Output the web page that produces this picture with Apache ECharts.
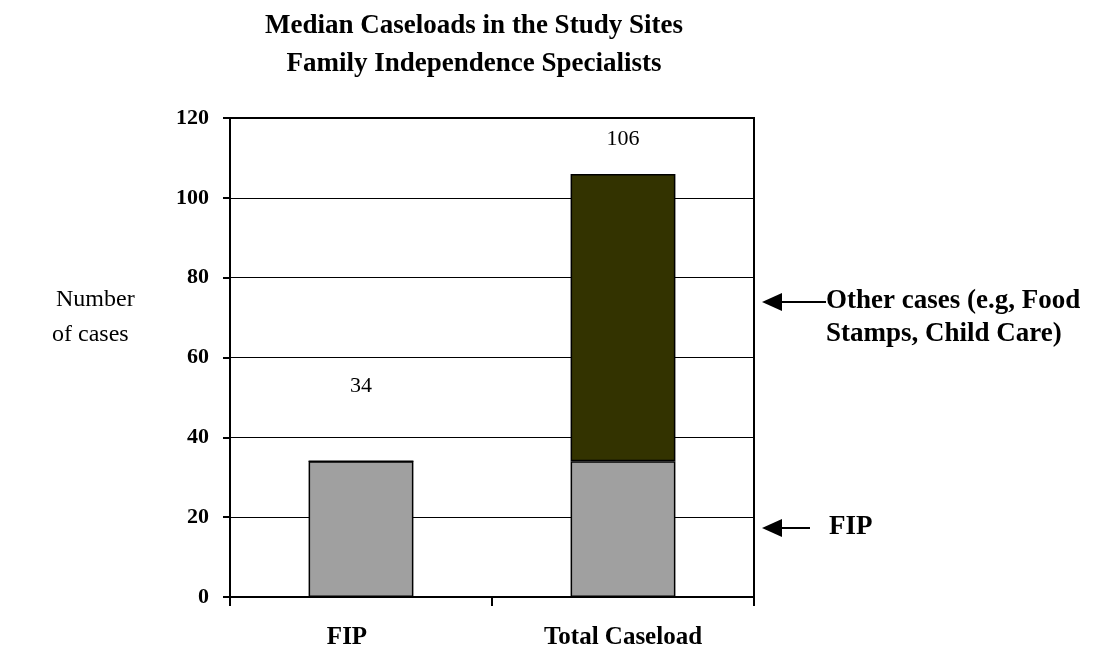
<!DOCTYPE html>
<html>
<head>
<meta charset="utf-8">
<script src="https://cdn.jsdelivr.net/npm/echarts@6/dist/echarts.min.js"></script>
<style>
  html, body { margin: 0; padding: 0; background: #fff; }
  #chart { width: 1094px; height: 647px; }
</style>
</head>
<body>
<div id="chart"></div>
<script>
const categories = ['FIP', 'Total Caseload'];
const fipCases = [34, 34];
const otherCases = [0, 72];
const totals = fipCases.map((v, i) => v + otherCases[i]);
const yTicks = [0, 20, 40, 60, 80, 100, 120];

const serif = '"Liberation Serif", "Times New Roman", serif';
const chart = echarts.init(document.getElementById('chart'));

chart.setOption({
  animation: false,
  backgroundColor: '#fff',
  graphic: [
    { type: 'text', x: 474, y: 26,
      style: { text: 'Median Caseloads in the Study Sites', font: 'bold 27px ' + serif, fill: '#000', align: 'center', verticalAlign: 'middle' } },
    { type: 'text', x: 474, y: 64,
      style: { text: 'Family Independence Specialists', font: 'bold 27px ' + serif, fill: '#000', align: 'center', verticalAlign: 'middle' } },
    { type: 'text', x: 56, y: 300,
      style: { text: 'Number', font: '24px ' + serif, fill: '#000', verticalAlign: 'middle' } },
    { type: 'text', x: 52, y: 335,
      style: { text: 'of cases', font: '24px ' + serif, fill: '#000', verticalAlign: 'middle' } },
    // arrow to other cases
    { type: 'line', shape: { x1: 780, y1: 302, x2: 826, y2: 302 }, style: { stroke: '#000', lineWidth: 2 } },
    { type: 'polygon', shape: { points: [[762, 302], [782, 293], [782, 311]] }, style: { fill: '#000' } },
    { type: 'text', x: 826, y: 301,
      style: { text: 'Other cases (e.g, Food', font: 'bold 27px ' + serif, fill: '#000', verticalAlign: 'middle' } },
    { type: 'text', x: 826, y: 334,
      style: { text: 'Stamps, Child Care)', font: 'bold 27px ' + serif, fill: '#000', verticalAlign: 'middle' } },
    // arrow to FIP
    { type: 'line', shape: { x1: 780, y1: 528, x2: 810, y2: 528 }, style: { stroke: '#000', lineWidth: 2 } },
    { type: 'polygon', shape: { points: [[762, 528], [782, 519], [782, 537]] }, style: { fill: '#000' } },
    { type: 'text', x: 829, y: 527,
      style: { text: 'FIP', font: 'bold 27px ' + serif, fill: '#000', verticalAlign: 'middle' } }
  ],
  grid: {
    left: 230, right: 340, top: 118, bottom: 50,
    outerBoundsMode: 'none',
    show: true, borderColor: '#000', borderWidth: 2, backgroundColor: 'transparent'
  },
  xAxis: {
    type: 'category',
    data: categories,
    axisLine: { lineStyle: { color: '#000', width: 2 } },
    axisTick: { show: true, alignWithLabel: false, interval: 0, length: 9, lineStyle: { color: '#000', width: 2 } },
    axisLabel: {
      margin: 28, fontFamily: serif, fontSize: 25, fontWeight: 'bold', color: '#000',
      // first label sits a little left of its bar in the original
      formatter: (v, i) => (i === 0 ? '{l|' + v + '}' : v),
      rich: { l: { fontFamily: serif, fontSize: 25, fontWeight: 'bold', color: '#000', padding: [0, 28, 0, 0] } }
    }
  },
  yAxis: {
    type: 'value',
    min: yTicks[0], max: yTicks[yTicks.length - 1], interval: 20,
    axisLine: { show: true, lineStyle: { color: '#000', width: 2 } },
    axisTick: { show: true, length: 7, lineStyle: { color: '#000', width: 2 } },
    axisLabel: { margin: 21, fontFamily: serif, fontSize: 22, fontWeight: 'bold', color: '#000' },
    splitLine: { lineStyle: { color: '#000', width: 1 } }
  },
  series: [
    {
      name: 'FIP', type: 'bar', stack: 'total', barWidth: '40%',
      data: fipCases.map((v, i) => ({
        value: v,
        label: i === 0 ? { show: true, position: 'top', distance: 64,
          formatter: () => String(totals[i]) } : { show: false }
      })),
      itemStyle: { color: '#a0a0a0', borderColor: '#000', borderWidth: 1.5 },
      label: { fontFamily: serif, fontSize: 22, color: '#000' }
    },
    {
      name: 'Other cases', type: 'bar', stack: 'total', barWidth: '40%',
      data: otherCases.map((v, i) => ({
        value: v,
        label: i === 1 ? { show: true, position: 'top', distance: 24,
          formatter: () => String(totals[i]) } : { show: false }
      })),
      itemStyle: { color: '#333300', borderColor: '#000', borderWidth: 1.5 },
      label: { fontFamily: serif, fontSize: 22, color: '#000' }
    }
  ]
});
</script>
</body>
</html>
